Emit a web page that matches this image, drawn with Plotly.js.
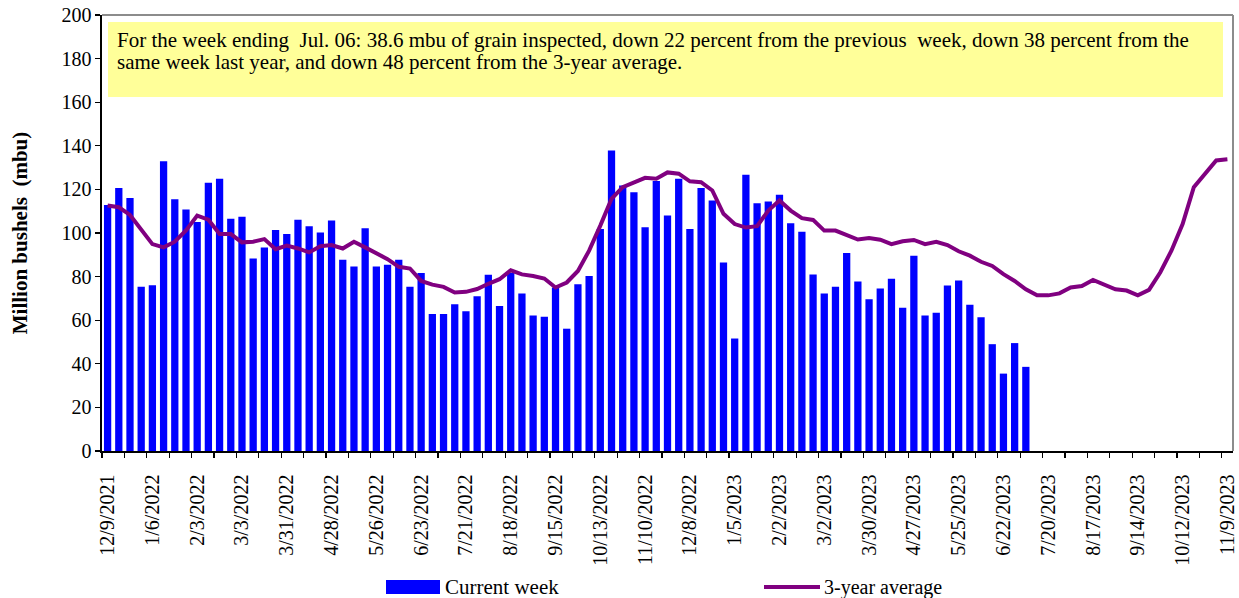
<!DOCTYPE html>
<html>
<head>
<meta charset="utf-8">
<script src="https://cdn.plot.ly/plotly-3.0.1.min.js"></script>
<style>
  html, body { margin: 0; padding: 0; background: #fff; }
  #chart { width: 1239px; height: 598px; }
</style>
</head>
<body>
<div id="chart"></div>
<script>
// Week-ending dates shown as tick labels (every 4th week)
const tickLabels = ["12/9/2021","1/6/2022","2/3/2022","3/3/2022","3/31/2022","4/28/2022","5/26/2022",
  "6/23/2022","7/21/2022","8/18/2022","9/15/2022","10/13/2022","11/10/2022","12/8/2022","1/5/2023",
  "2/2/2023","3/2/2023","3/30/2023","4/27/2023","5/25/2023","6/22/2023","7/20/2023","8/17/2023",
  "9/14/2023","10/12/2023","11/9/2023"];

// Current week inspections (mbu), weeks 12/9/2021 .. 7/6/2023
const currentWeek = [112.9,120.6,116.1,75.3,76.0,132.9,115.5,110.8,105.1,123.0,
  124.9,106.5,107.5,88.3,93.4,101.4,99.5,106.1,103.1,100.2,
  105.7,87.7,84.6,102.2,84.6,85.4,87.7,75.3,81.6,62.8,
  62.8,67.3,64.1,71.0,80.8,66.5,81.6,72.2,62.2,61.6,
  75.0,56.1,76.5,80.3,101.8,137.9,121.8,118.7,102.6,123.8,
  108.0,124.9,101.8,120.6,114.9,86.5,51.6,126.7,113.7,114.4,
  117.5,104.5,100.6,81.0,72.2,75.3,90.8,77.7,69.6,74.5,
  79.0,65.7,89.6,62.1,63.4,75.9,78.2,67.1,61.4,49.0,
  35.5,49.5,38.6];

// 3-year average (mbu), weeks 12/9/2021 .. 11/9/2023
const threeYearAvg = [112.6,111.8,108.3,101.8,94.9,93.4,96.0,101.2,108.0,106.1,
  99.5,99.5,95.7,96.0,97.2,92.6,94.2,92.9,91.1,93.9,
  94.5,92.9,96.0,93.4,90.8,88.0,84.5,83.7,78.0,76.3,
  75.3,72.7,73.0,74.3,76.7,78.8,82.9,81.0,80.3,79.1,
  75.0,77.3,82.6,91.9,103.4,115.7,121.0,123.3,125.3,124.9,
  127.8,127.2,123.7,123.3,119.5,108.8,104.1,102.5,103.1,110.3,
  114.9,110.3,106.8,106.0,101.1,101.1,99.1,97.0,97.7,96.9,
  94.9,96.2,96.8,94.9,96.0,94.5,91.6,89.6,86.8,84.9,
  81.1,78.0,74.2,71.4,71.4,72.3,75.0,75.7,78.5,76.5,
  74.2,73.6,71.4,73.9,81.9,91.9,104.1,121.0,127.2,133.3,
  133.8];

const seriesNames = ["Current week", "3-year average"];
const noteLine1 = "For the week ending  Jul. 06: 38.6 mbu of grain inspected, down 22 percent from the previous  week, down 38 percent from the";
const noteLine2 = "same week last year, and down 48 percent from the 3-year average.";

const WEEKS_PER_LABEL = 4;
const xBars = currentWeek.map((_, i) => i);
const xLine = threeYearAvg.map((_, i) => i);
const tickVals = tickLabels.map((_, i) => i * WEEKS_PER_LABEL);

const FONT = "Liberation Serif, Times New Roman, serif";

// plot area pixel geometry helpers (for legend/note placement in paper coords)
const L = 102, R = 1233, T = 15, B = 451;
const px = v => (v - L) / (R - L);
const py = v => (B - v) / (B - T);

const traces = [
  {
    type: "bar", x: xBars, y: currentWeek, name: seriesNames[0],
    marker: { color: "#0000FF", line: { width: 0 } },
    showlegend: false, hoverinfo: "y"
  },
  {
    type: "scatter", mode: "lines", x: xLine, y: threeYearAvg, name: seriesNames[1],
    line: { color: "#800080", width: 4 },
    showlegend: false, hoverinfo: "y"
  }
];

const layout = {
  width: 1239, height: 598,
  margin: { l: L, r: 1239 - R, t: T, b: 598 - B, pad: 0 },
  paper_bgcolor: "#ffffff", plot_bgcolor: "#ffffff",
  font: { family: FONT, color: "#000", size: 19 },
  bargap: 0.35,
  xaxis: {
    range: [-0.5, threeYearAvg.length - 0.5],
    tickmode: "array", tickvals: tickVals, ticktext: tickLabels,
    tickangle: -90, ticks: "", ticklabelstandoff: 14,
    tickfont: { family: FONT, size: 20, color: "#000" },
    minor: { tickmode: "linear", tick0: -0.5, dtick: 2, ticks: "outside", ticklen: 5, tickwidth: 1.2, tickcolor: "#000" },
    showline: true, linecolor: "#000", linewidth: 1.6,
    showgrid: false, zeroline: false, fixedrange: true
  },
  yaxis: {
    range: [0, 200], dtick: 20, tick0: 0,
    ticks: "outside", ticklen: 5, tickwidth: 1.2, tickcolor: "#000",
    tickfont: { family: FONT, size: 20, color: "#000" },
    showline: true, linecolor: "#000", linewidth: 1.6,
    showgrid: false, zeroline: false, fixedrange: true,
    title: { text: "<b>Million bushels  (mbu)</b>", font: { family: FONT, size: 21, color: "#000" }, standoff: 28 }
  },
  shapes: [
    // plot-area border (top & right, gray)
    { type: "line", xref: "paper", yref: "paper", x0: 0, x1: 1, y0: 1, y1: 1, line: { color: "#8c8c8c", width: 2 } },
    { type: "line", xref: "paper", yref: "paper", x0: 1, x1: 1, y0: 0, y1: 1, line: { color: "#8c8c8c", width: 2 } },
    // note box
    { type: "rect", xref: "paper", yref: "paper", x0: px(108), x1: px(1223), y0: py(97), y1: py(22),
      fillcolor: "#FFFF99", line: { width: 0 }, layer: "below" },
    // legend keys
    { type: "rect", xref: "paper", yref: "paper", x0: px(386), x1: px(440), y0: py(594), y1: py(580),
      fillcolor: "#0000FF", line: { width: 0 } },
    { type: "line", xref: "paper", yref: "paper", x0: px(764), x1: px(820), y0: py(587), y1: py(587),
      line: { color: "#800080", width: 4 } }
  ],
  annotations: [
    { xref: "paper", yref: "paper", x: px(115), y: py(40), xanchor: "left", yanchor: "middle",
      text: noteLine1, showarrow: false, font: { family: FONT, size: 21, color: "#000" } },
    { xref: "paper", yref: "paper", x: px(115), y: py(62), xanchor: "left", yanchor: "middle",
      text: noteLine2, showarrow: false, font: { family: FONT, size: 21, color: "#000" } },
    { xref: "paper", yref: "paper", x: px(443), y: py(587), xanchor: "left", yanchor: "middle",
      text: seriesNames[0], showarrow: false, font: { family: FONT, size: 21, color: "#000" } },
    { xref: "paper", yref: "paper", x: px(822), y: py(587), xanchor: "left", yanchor: "middle",
      text: seriesNames[1], showarrow: false, font: { family: FONT, size: 20, color: "#000" } }
  ]
};

Plotly.newPlot("chart", traces, layout, { displayModeBar: false, staticPlot: true });
</script>
</body>
</html>
